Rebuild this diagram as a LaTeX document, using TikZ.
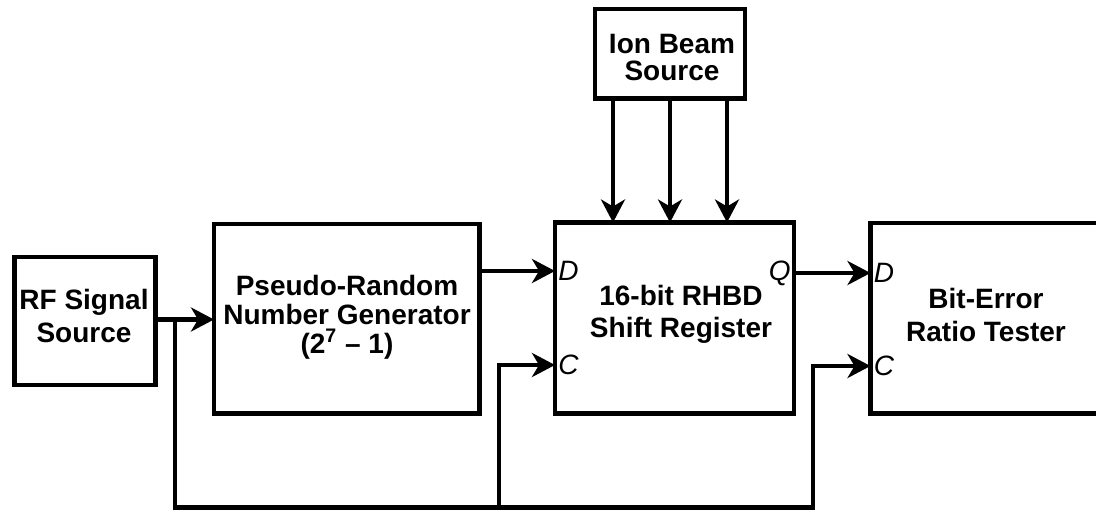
\documentclass[tikz,border=0pt]{standalone}
\usepackage{fontspec}
\setmainfont{Liberation Sans}
\usetikzlibrary{arrows.meta,calc}
\begin{document}
\begin{tikzpicture}[x=0.5pt,y=-0.5pt,
  box/.style={draw,line width=2.25pt,inner sep=0pt,outer sep=0pt},
  txt/.style={align=center,inner sep=0pt},
  port/.style={font=\fontsize{14}{16}\selectfont\itshape,inner sep=1.5pt},
  wire/.style={line width=2.25pt},
  arr/.style={wire,-{Stealth[length=11.5pt,width=12pt,inset=3.5pt]}}]
\useasboundingbox (0,0) rectangle (1096,514);
\clip (0,0) rectangle (1096,514);

% blocks
\node[box,minimum width=70.5pt,minimum height=64pt]     (rf)   at (85,321)       {};
\node[box,minimum width=132.75pt,minimum height=94.75pt](prng) at (346.75,318.75) {};
\node[box,minimum width=119.5pt,minimum height=95.5pt]  (sr)   at (674.5,318)    {};
\node[box,minimum width=115.75pt,minimum height=95.25pt](bert) at (986.25,318.25) {};
\node[box,minimum width=75pt,minimum height=44.75pt]    (ion)  at (670,53.75)    {};

% block captions
\node[txt,font=\fontsize{14}{16.5}\selectfont\bfseries] (rft)   at (84,316)    {RF Signal\\Source};
\node[txt,font=\fontsize{14}{14.5}\selectfont\bfseries] (prngt) at (347,317)   {Pseudo-Random\\Number Generator\\(2\textsuperscript{7} – 1)};
\node[txt,font=\fontsize{14}{16}\selectfont\bfseries]   (srt)   at (681,314.5) {16-bit RHBD\\Shift Register};
\node[txt,font=\fontsize{14}{16.5}\selectfont\bfseries] (bertt) at (986,315)   {Bit-Error\\Ratio Tester};
\node[txt,font=\fontsize{14}{13.5}\selectfont\bfseries] (iont)  at (672,57.5)  {Ion Beam\\Source};

% ports
\coordinate (srD)  at ($(sr.west)+(0,-47)$);
\coordinate (srC)  at ($(sr.west)+(0,47)$);
\coordinate (srQ)  at ($(sr.east)+(0,-45)$);
\coordinate (beD)  at ($(bert.west)+(0,-45.25)$);
\coordinate (beC)  at ($(bert.west)+(0,47.75)$);

% clock distribution
\coordinate (j)    at ($(rf.east)+(19.5,-1.5)$);
\coordinate (busR) at ($(bert.west)+(-57.5,189)$);
\coordinate (tapS) at ($(sr.west)+(-56,189)$);

\draw[arr] (j -| rf.east) -- (j -| prng.west);
\draw[arr] (srD -| prng.east) -- (srD);
\draw[arr] (srQ) -- (beD);
\draw[arr] (j) |- (busR) |- (beC);
\draw[arr] (tapS) |- (srC);

% ion beam
\foreach \dx in {-57,0,57}
  \draw[arr] ($(ion.south)+(\dx,0)$) -- ($(ion.south)+(\dx,124)$);

% port labels
\node[port,anchor=west] at (srD) {D};
\node[port,anchor=west] at (srC) {C};
\node[port,anchor=east] at (srQ) {Q};
\node[port,anchor=west] at (beD) {D};
\node[port,anchor=west] at (beC) {C};
\end{tikzpicture}
\end{document}
